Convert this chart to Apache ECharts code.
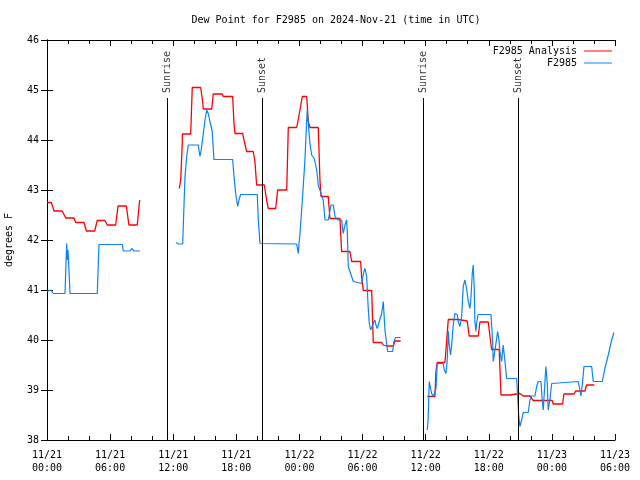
<!DOCTYPE html>
<html>
<head>
<meta charset="utf-8">
<script src="https://cdn.jsdelivr.net/npm/echarts@6/dist/echarts.min.js"></script>
<style>html,body{margin:0;padding:0;background:#fff}#c{width:640px;height:480px}</style>
</head>
<body>
<div id="c"></div>
<script>
// Time values are hours since 2024-11-21 00:00 UTC
const xTickLabels = ['11/21\n00:00','11/21\n06:00','11/21\n12:00','11/21\n18:00','11/22\n00:00','11/22\n06:00','11/22\n12:00','11/22\n18:00','11/23\n00:00','11/23\n06:00'];
const yTicks = [38, 39, 40, 41, 42, 43, 44, 45, 46];

const analysisPart1 = [[0,42.75],[0.41,42.75],[0.67,42.58],[1.45,42.58],[1.78,42.44],[2.57,42.44],[2.73,42.35],[3.52,42.35],[3.74,42.18],[4.53,42.18],[4.78,42.39],[5.51,42.39],[5.73,42.3],[6.53,42.3],[6.75,42.68],[7.54,42.68],[7.79,42.3],[8.58,42.3],[8.81,42.8]];
const analysisPart2 = [[12.58,43.03],[12.71,43.2],[12.86,43.93],[12.87,44.12],[13.66,44.12],[13.81,45.05],[14.61,45.05],[14.76,44.83],[14.86,44.62],[15.66,44.62],[15.81,44.92],[16.66,44.92],[16.76,44.87],[17.65,44.87],[17.78,44.33],[17.87,44.13],[18.6,44.13],[18.73,44.0],[18.98,43.77],[19.61,43.77],[19.77,43.57],[19.93,43.1],[20.66,43.1],[20.88,42.8],[21.04,42.63],[21.74,42.63],[21.93,43.0],[22.79,43.0],[22.94,44.25],[23.74,44.25],[24.05,44.6],[24.27,44.87],[24.69,44.87],[24.84,44.37],[25.0,44.25],[25.79,44.25],[25.95,43.2],[26.05,42.87],[26.74,42.87],[26.9,42.43],[27.85,42.43],[28.01,41.77],[28.8,41.77],[28.96,41.57],[29.82,41.57],[29.91,41.27],[30.07,40.99],[30.87,40.99],[31.02,39.95],[31.82,39.95],[31.97,39.9],[32.29,39.88],[32.92,39.88],[33.08,39.98],[33.62,39.98]];
const analysisPart3 = [[36.15,38.87],[36.88,38.87],[36.98,39.37],[37.1,39.55],[37.83,39.55],[37.99,39.97],[38.15,40.41],[39.1,40.41],[39.95,40.38],[40.14,40.08],[41.0,40.08],[41.16,40.36],[41.95,40.36],[42.11,40.08],[42.27,39.81],[42.99,39.81],[43.16,38.9],[44.01,38.9],[44.17,38.93],[44.96,38.93],[45.28,38.88],[45.91,38.88],[46.23,38.79],[48.03,38.79],[48.13,38.72],[49.02,38.72],[49.14,38.92],[50.12,38.92],[50.26,38.98],[51.14,38.98],[51.3,39.1],[52.03,39.1]];

const stationPart1 = [[0,40.97],[0.35,41.0],[0.6,40.93],[1.71,40.93],[1.87,41.93],[1.95,41.6],[2.0,41.8],[2.19,40.93],[4.78,40.93],[4.94,41.91],[5.9,41.91],[6.0,41.95],[6.1,41.91],[7.16,41.91],[7.25,41.78],[7.89,41.78],[8.05,41.83],[8.27,41.78],[8.84,41.78]];
const stationPart2 = [[12.26,41.95],[12.48,41.92],[12.9,41.92],[13.02,42.67],[13.12,43.27],[13.28,43.67],[13.43,43.9],[14.38,43.9],[14.54,43.67],[14.64,43.77],[14.86,44.13],[15.02,44.4],[15.18,44.6],[15.33,44.53],[15.49,44.37],[15.71,44.17],[15.87,43.61],[17.65,43.61],[17.78,43.27],[17.94,42.93],[18.13,42.67],[18.25,42.8],[18.41,42.91],[19.99,42.91],[20.09,42.4],[20.25,41.93],[23.74,41.92],[23.83,41.8],[23.89,41.73],[23.95,41.9],[24.05,42.13],[24.21,42.6],[24.36,43.07],[24.52,43.6],[24.69,44.4],[24.74,44.6],[24.84,44.33],[25.0,43.93],[25.16,43.7],[25.41,43.63],[25.64,43.4],[25.79,43.1],[25.95,43.07],[26.26,42.8],[26.43,42.4],[26.74,42.4],[27.0,42.7],[27.22,42.7],[27.38,42.47],[27.63,42.4],[28.01,42.4],[28.16,42.13],[28.33,42.3],[28.49,42.4],[28.56,42.1],[28.64,41.47],[28.8,41.43],[28.96,41.27],[29.12,41.17],[29.28,41.13],[29.91,41.13],[30.13,41.37],[30.23,41.43],[30.39,41.27],[30.54,40.63],[30.64,40.33],[30.77,40.2],[30.92,40.17],[31.02,40.33],[31.18,40.4],[31.27,40.3],[31.4,40.23],[31.59,40.37],[31.82,40.53],[31.97,40.77],[32.13,40.2],[32.29,39.93],[32.38,39.77],[32.86,39.77],[32.98,39.97],[33.15,40.05],[33.62,40.05]];
const stationPart3 = [[36.15,38.2],[36.24,38.43],[36.34,39.17],[36.47,39.03],[36.57,38.93],[36.72,38.87],[36.88,38.87],[36.98,39.03],[37.1,39.53],[37.67,39.53],[37.77,39.4],[37.93,39.33],[38.05,39.6],[38.15,40.18],[38.24,39.9],[38.37,39.7],[38.47,39.9],[38.62,40.3],[38.78,40.53],[39.0,40.51],[39.1,40.37],[39.26,40.27],[39.42,40.47],[39.57,41.07],[39.73,41.2],[39.89,41.03],[40.05,40.77],[40.21,40.63],[40.3,40.83],[40.43,41.33],[40.52,41.5],[40.62,41.03],[40.68,40.37],[40.78,40.17],[40.84,40.33],[40.99,40.51],[42.21,40.51],[42.37,39.97],[42.42,39.57],[42.52,39.7],[42.68,39.93],[42.84,40.17],[42.97,40.0],[43.06,39.77],[43.22,39.57],[43.37,39.9],[43.54,39.57],[43.7,39.23],[44.65,39.23],[44.74,38.9],[44.84,38.5],[44.9,38.37],[44.96,38.27],[45.12,38.4],[45.28,38.55],[45.75,38.55],[45.91,38.8],[46.07,38.88],[46.39,38.88],[46.55,39.07],[46.7,39.17],[46.96,39.17],[47.08,38.8],[47.18,38.6],[47.34,39.17],[47.43,39.47],[47.56,39.13],[47.65,38.6],[47.81,38.8],[47.98,39.13],[48.07,39.17],[50.5,39.17],[50.67,39.0],[50.76,38.88],[50.92,39.17],[51.05,39.47],[51.78,39.47],[51.93,39.17],[52.79,39.17],[53.04,39.43],[53.36,39.7],[53.68,40.0],[53.9,40.15]];

const sunTimes = [11.41, 20.44, 35.74, 44.77];
const sunLabels = ['Sunrise', 'Sunset', 'Sunrise', 'Sunset'];
const sunLineTop = 44.84;

const seriesNames = ['F2985 Analysis', 'F2985'];
const titleText = 'Dew Point for F2985 on 2024-Nov-21 (time in UTC)';

function joinParts(parts) {
  const out = [];
  parts.forEach((p, i) => {
    if (i > 0) out.push([(parts[i-1][parts[i-1].length-1][0] + p[0][0]) / 2, '-']);
    p.forEach(d => out.push(d));
  });
  return out;
}

const FONT = 'DejaVu Sans Mono';
const chart = echarts.init(document.getElementById('c'), null, {renderer: 'canvas'});
const xBase = {
  type: 'value', min: 0, max: 54, interval: 6,
  axisLine: {show: true, lineStyle: {color: '#000', width: 1}},
  axisTick: {show: true, inside: true, length: 6, lineStyle: {color: '#000'}},
  minorTick: {show: true, splitNumber: 3, length: 4, lineStyle: {color: '#000'}},
  splitLine: {show: false}
};
const yBase = {
  type: 'value', min: 38, max: 46, interval: 1,
  axisLine: {show: true, lineStyle: {color: '#000', width: 1}},
  axisTick: {show: true, inside: true, length: 6, lineStyle: {color: '#000'}},
  splitLine: {show: false}
};
chart.setOption({
  animation: false,
  backgroundColor: '#fff',
  title: {
    text: titleText, left: 331, top: 10, textAlign: 'center',
    textStyle: {fontFamily: FONT, fontSize: 10, fontWeight: 'normal', color: '#000'}
  },
  grid: {left: 47, right: 25, top: 40, bottom: 40, containLabel: false, outerBoundsMode: 'none'},
  legend: {
    data: seriesNames, orient: 'vertical', right: 28, top: 46, align: 'right', padding: 0,
    itemWidth: 28, itemHeight: 10, itemGap: 2, icon: 'path://M0,5L28,5L28,6L0,6Z',
    textStyle: {fontFamily: FONT, fontSize: 10, color: '#000', width: 100, align: 'right', padding: [0, 2, 0, 0]}
  },
  xAxis: [
    Object.assign({}, xBase, {
      position: 'bottom',
      axisLabel: {
        fontFamily: FONT, fontSize: 10, color: '#000', margin: 9, lineHeight: 13,
        formatter: v => xTickLabels[Math.round(v / 6)] || ''
      }
    }),
    Object.assign({}, xBase, {position: 'top', axisLabel: {show: false}})
  ],
  yAxis: [
    Object.assign({}, yBase, {
      position: 'left', name: 'degrees F', nameLocation: 'middle', nameRotate: 90, nameGap: 33,
      nameTextStyle: {fontFamily: FONT, fontSize: 10, color: '#000'},
      axisLabel: {fontFamily: FONT, fontSize: 10, color: '#000', margin: 8, formatter: v => yTicks.includes(v) ? String(v) : ''}
    }),
    Object.assign({}, yBase, {position: 'right', axisLabel: {show: false}})
  ],
  series: [
    {
      name: seriesNames[0], type: 'line', data: joinParts([analysisPart1, analysisPart2, analysisPart3]),
      showSymbol: false, symbol: 'none', connectNulls: false,
      lineStyle: {color: '#ff0000', width: 1.3}, itemStyle: {color: '#ff0000'}, z: 3,
      markLine: {
        silent: true, symbol: 'none', label: {show: false},
        lineStyle: {color: '#000', width: 1, type: 'solid'},
        data: sunTimes.map(t => [{coord: [t, 38]}, {coord: [t, sunLineTop]}])
      }
    },
    {
      name: seriesNames[1], type: 'line', data: joinParts([stationPart1, stationPart2, stationPart3]),
      showSymbol: false, symbol: 'none', connectNulls: false,
      lineStyle: {color: '#0a84f5', width: 1.2}, itemStyle: {color: '#0a84f5'}, z: 4
    },
    {
      name: 'sun', type: 'scatter', symbolSize: 0, silent: true,
      data: sunTimes.map((t, i) => [t, sunLineTop, sunLabels[i]]),
      label: {
        show: true, position: 'top', distance: 5, rotate: 90, align: 'left', verticalAlign: 'middle',
        fontFamily: FONT, fontSize: 10, color: '#000', formatter: p => p.data[2]
      }
    }
  ]
});
</script>
</body>
</html>
